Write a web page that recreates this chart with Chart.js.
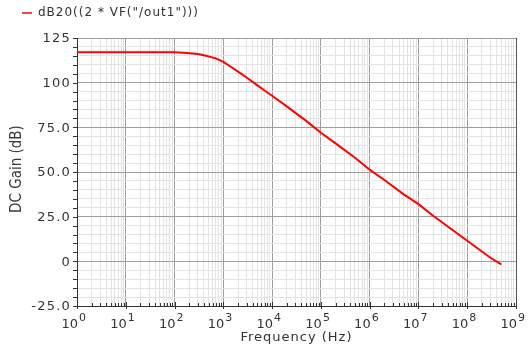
<!DOCTYPE html>
<html>
<head>
<meta charset="utf-8">
<script src="https://cdn.jsdelivr.net/npm/chart.js@4.4.0/dist/chart.umd.min.js"></script>
<style>
  html, body { margin: 0; padding: 0; background: #fff; }
</style>
</head>
<body>
<canvas id="c" width="530" height="347"></canvas>
<script>
// Open-loop gain response of the amplifier output
const frequencies = [1, 10, 100, 150, 200, 300, 400, 500, 700, 1e3, 1.5e3, 2e3, 3e3, 5e3, 7e3,
  1e4, 2e4, 3e4, 5e4, 1e5, 2e5, 5e5, 1e6, 2e6, 5e6, 1e7, 2e7, 5e7, 1e8, 2e8, 3e8, 5e8];
const gainDb = [117, 117, 117, 116.8, 116.5, 116, 115.3, 114.7, 113.6, 111.6, 108.5, 106.2, 102.9, 98.5, 95.6,
  92.7, 86.7, 83.1, 78.6, 72, 66, 58, 51.3, 45.5, 37.5, 32, 25.5, 17.5, 11.5, 5.5, 2, -1.7];

const seriesName = 'dB20((2 * VF("/out1")))';
const yTickValues = [125, 100, 75, 50, 25, 0, -25];
const yTickLabels = ['125', '100', '75.0', '50.0', '25.0', '0', '-25.0'];
const xDecades = [0, 1, 2, 3, 4, 5, 6, 7, 8, 9];
const xTitle = 'Frequency (Hz)';
const yTitle = 'DC Gain (dB)';

const FONT = '"DejaVu Sans", Verdana, sans-serif';
const FONT_NARROW = '"DejaVu Sans Condensed", "Liberation Sans Narrow", "DejaVu Sans", sans-serif';
const TEXT = '#333333';
const MAJOR_GRID = '#9e9e9e';
const MINOR_GRID = '#e3e3e3';

const isDecade = v => Math.abs(Math.log10(v) - Math.round(Math.log10(v))) < 1e-9;

function spacedText(ctx, text, x, y, spacing) {
  ctx.letterSpacing = spacing + 'px';
  ctx.fillText(text, x, y);
  ctx.letterSpacing = '0px';
}

const decorations = {
  id: 'decorations',
  afterDraw(chart) {
    const { ctx, chartArea: a } = chart;
    const xs = chart.scales.x;
    const ys = chart.scales.y;
    ctx.save();

    // legend entry
    ctx.strokeStyle = '#ff0000';
    ctx.lineWidth = 1.5;
    ctx.beginPath();
    ctx.moveTo(22, 13);
    ctx.lineTo(32, 13);
    ctx.stroke();
    ctx.fillStyle = TEXT;
    ctx.font = '12px ' + FONT;
    ctx.textBaseline = 'middle';
    ctx.textAlign = 'left';
    spacedText(ctx, seriesName, 38, 13, 1);

    // right frame edge
    ctx.lineWidth = 1;
    ctx.strokeStyle = '#555';
    ctx.beginPath();
    ctx.moveTo(Math.round(a.right) + 0.5, a.top);
    ctx.lineTo(Math.round(a.right) + 0.5, a.bottom);
    ctx.stroke();

    // tick marks along the frequency axis
    ctx.strokeStyle = '#333';
    xs.ticks.forEach(t => {
      const px = Math.round(xs.getPixelForValue(t.value)) + 0.5;
      ctx.beginPath();
      if (isDecade(t.value)) {
        ctx.moveTo(px, a.bottom - 4);
        ctx.lineTo(px, a.bottom + 3);
      } else {
        ctx.moveTo(px, a.bottom - 3);
        ctx.lineTo(px, a.bottom);
      }
      ctx.stroke();
    });

    // tick marks along the gain axis
    ys.ticks.forEach(t => {
      const py = Math.round(ys.getPixelForValue(t.value)) + 0.5;
      ctx.beginPath();
      ctx.moveTo(a.left - 4, py);
      ctx.lineTo(a.left, py);
      ctx.stroke();
    });

    // gain labels
    ctx.fillStyle = TEXT;
    ctx.font = '13px ' + FONT;
    ctx.textAlign = 'right';
    ctx.textBaseline = 'middle';
    yTickValues.forEach((v, i) => {
      spacedText(ctx, yTickLabels[i], a.left - 6, ys.getPixelForValue(v) + 1, 1.2);
    });

    // decade labels written as 10 with a raised exponent
    ctx.textAlign = 'left';
    ctx.textBaseline = 'alphabetic';
    xDecades.forEach(k => {
      const px = xs.getPixelForValue(Math.pow(10, k));
      ctx.font = '13px ' + FONT;
      const wb = ctx.measureText('10').width;
      const x0 = px - wb + 1;
      ctx.fillText('10', x0, 328);
      ctx.font = '11px ' + FONT;
      ctx.fillText(String(k), x0 + wb + 1, 321);
    });

    // axis titles
    ctx.font = '13px ' + FONT;
    ctx.textAlign = 'center';
    ctx.textBaseline = 'middle';
    spacedText(ctx, xTitle, (a.left + a.right) / 2, 338, 1);

    ctx.translate(17, (a.top + a.bottom) / 2 - 3);
    ctx.rotate(-Math.PI / 2);
    ctx.fillStyle = '#3a3a3a';
    ctx.font = '15px ' + FONT_NARROW;
    ctx.fillText(yTitle, 0, 0);
    ctx.restore();
  }
};

new Chart(document.getElementById('c'), {
  type: 'line',
  data: {
    datasets: [{
      label: seriesName,
      data: frequencies.map((f, i) => ({ x: f, y: gainDb[i] })),
      borderColor: '#ff0000',
      borderWidth: 2,
      pointRadius: 0,
      tension: 0,
      fill: false
    }]
  },
  options: {
    responsive: false,
    devicePixelRatio: 1,
    animation: false,
    layout: { padding: { top: 38, right: 14, left: 0, bottom: 0 } },
    plugins: { legend: { display: false }, tooltip: { enabled: false } },
    scales: {
      x: {
        type: 'logarithmic',
        min: 1,
        max: 1e9,
        afterBuildTicks(scale) {
          const t = [];
          for (let k = 0; k < 9; k++) {
            for (let m = 1; m <= 9; m++) t.push({ value: m * Math.pow(10, k) });
          }
          t.push({ value: 1e9 });
          scale.ticks = t;
        },
        afterFit(scale) { scale.height = 41; },
        ticks: { display: false, autoSkip: false },
        grid: {
          drawTicks: false,
          color: c => (c.tick && isDecade(c.tick.value)) ? MAJOR_GRID : MINOR_GRID,
          lineWidth: 1
        },
        border: { color: '#333', width: 1 },
        title: { display: false }
      },
      y: {
        min: -25,
        max: 125,
        afterBuildTicks(scale) {
          const t = [];
          for (let v = -25; v <= 125; v += 5) t.push({ value: v });
          scale.ticks = t;
        },
        afterFit(scale) { scale.width = 77; },
        ticks: { display: false, autoSkip: false },
        grid: {
          drawTicks: false,
          color: c => (c.tick && c.tick.value % 25 === 0) ? MAJOR_GRID : MINOR_GRID,
          lineWidth: 1
        },
        border: { color: '#333', width: 1 },
        title: { display: false }
      }
    }
  },
  plugins: [decorations]
});
</script>
</body>
</html>
